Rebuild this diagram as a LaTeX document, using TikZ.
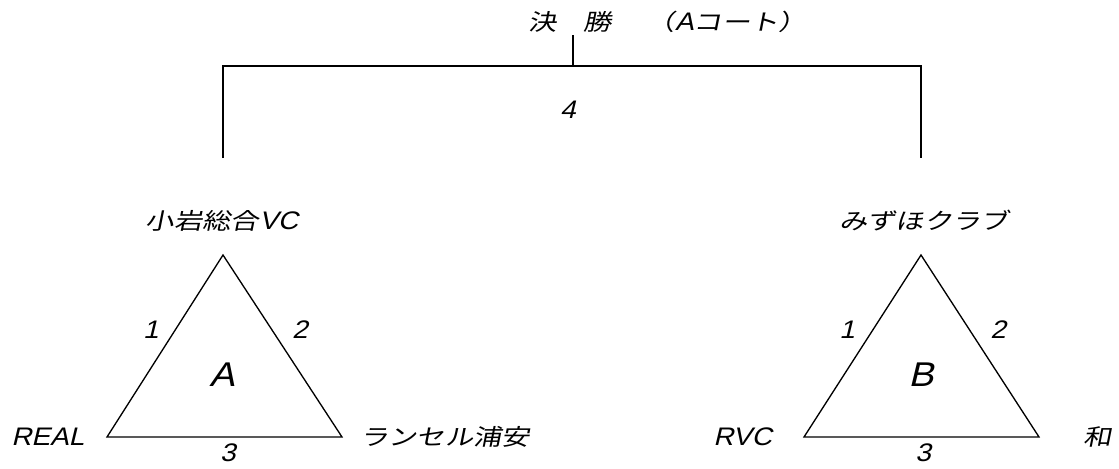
\documentclass[tikz,border=0pt]{standalone}
\usepackage{fontspec}
\newfontfamily\jp[FakeSlant=0.2,FakeStretch=1.25]{Noto Sans CJK JP}
\newfontfamily\lat[FakeSlant=0.24,FakeStretch=1.1,Scale=1.12]{Liberation Sans}
\begin{document}
\begin{tikzpicture}[x={(0.75pt,0)},y={(0,-0.75pt)},
  lbl/.style={inner sep=0pt,anchor=center,font=\fontsize{17pt}{20pt}\selectfont},
  jlbl/.style={inner sep=0pt,anchor=center,font=\fontsize{17pt}{20pt}\selectfont\jp},
  big/.style={inner sep=0pt,anchor=center,font=\fontsize{23pt}{26pt}\selectfont},
  bracket/.style={line width=1.5pt},
  tri/.style={line width=1pt,line join=miter}]
\useasboundingbox (0,0) rectangle (1119,468);
% bracket
\coordinate (top) at (573,35);
\coordinate (mid) at (573,66);
\coordinate (lt) at (223,66);
\coordinate (rt) at (921,66);
\coordinate (lb) at (223,158);
\coordinate (rb) at (921,158);
\draw[bracket] (top) -- (mid);
\draw[bracket] (lb) -- (lt) -- (rt) -- (rb);
\node[jlbl] (ketsu) at (543,22) {決};
\node[jlbl] (sho) at (598,22) {勝};
\node[lbl] (court) at (727,22) {{\jp （}{\lat A}{\jp コート）}};
\node[lbl] (four) at (568,110) {\lat 4};
% triangle A
\coordinate (a1) at (223,255);
\coordinate (a2) at (107,437);
\coordinate (a3) at (342,437);
\draw[tri] (a1) -- (a2) -- (a3) -- cycle;
\node[lbl] (atop) at (222,221) {{\jp 小岩総合}{\lat VC}};
\node[lbl] (aone) at (151,330) {\lat 1};
\node[lbl] (atwo) at (300,330) {\lat 2};
\node[big] (aname) at (222,375) {\lat A};
\node[lbl,anchor=west] (aleft) at (11,437) {\lat REAL};
\node[jlbl,anchor=west] (aright) at (360,437) {ランセル浦安};
\node[lbl] (athree) at (228,453) {\lat 3};
% triangle B
\coordinate (b1) at (921,255);
\coordinate (b2) at (804,437);
\coordinate (b3) at (1039,437);
\draw[tri] (b1) -- (b2) -- (b3) -- cycle;
\node[jlbl] (btop) at (924,221) {みずほクラブ};
\node[lbl] (bone) at (847,330) {\lat 1};
\node[lbl] (btwo) at (998,330) {\lat 2};
\node[big] (bname) at (921,375) {\lat B};
\node[lbl,anchor=west] (bleft) at (713,437) {\lat RVC};
\node[jlbl] (bright) at (1098,437) {和};
\node[lbl] (bthree) at (923,453) {\lat 3};
\end{tikzpicture}
\end{document}
